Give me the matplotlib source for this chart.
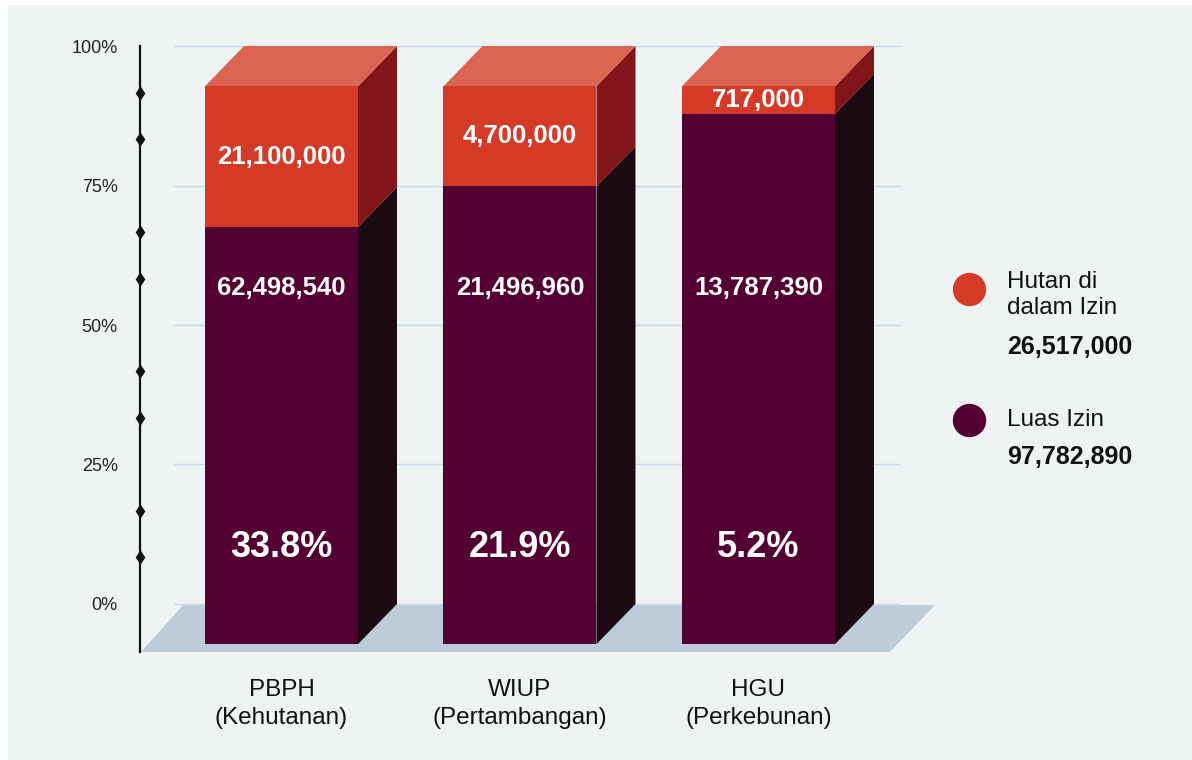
import matplotlib
matplotlib.use("Agg")
import matplotlib.pyplot as plt
from matplotlib.lines import Line2D
from matplotlib.patches import Rectangle
import numpy as np

plt.rcParams['font.family'] = ['Liberation Sans', 'DejaVu Sans']

categories = ["PBPH\n(Kehutanan)", "WIUP\n(Pertambangan)", "HGU\n(Perkebunan)"]
luas_izin = np.array([62498540, 21496960, 13787390])
hutan_izin = np.array([21100000, 4700000, 717000])
yticks = [0, 25, 50, 75, 100]
legend_names = ["Hutan di\ndalam Izin", "Luas Izin"]

# shares of each stacked bar (100% stacked)
total = luas_izin + hutan_izin
luas_share = luas_izin / total * 100
hutan_share = hutan_izin / total * 100
pct = hutan_izin / luas_izin * 100

# colours
bg = "#eef3f3"
red_front, red_top, red_side = "#d53a26", "#dc6552", "#82151a"
pur_front, pur_side = "#540032", "#1c0a12"
floor_col = "#bccdd9"
grid_col = "#c9dbe8"

W, H = 1192, 760
fig = plt.figure(figsize=(W / 100, H / 100), dpi=100, facecolor="white")
fig.add_artist(Rectangle((8 / W, 0), 1, (H - 5) / H, transform=fig.transFigure,
                         facecolor=bg, edgecolor="none", zorder=0))

ax = fig.add_axes([140 / W, 100 / H, 810 / W, 620 / H])
ax.set_facecolor("none")
ax.set_xlim(-0.5933, 2.803)
ax.set_ylim(-10.04, 101.08)

n = len(categories)
x = np.arange(n)
w = 0.6415          # front face width
dx, dy = 0.1635, 7.2  # 3d depth offset

# floor
fl_dx, fl_dy = 0.176, 8.6
fl_left, fl_right = -0.589, n - 1 + 0.551
ax.fill([fl_left, fl_right, fl_right + fl_dx + 0.013, fl_left + fl_dx],
        [-fl_dy, -fl_dy, -0.2, -0.2], color=floor_col, lw=0, zorder=1)

# grid lines on the back wall
for t in yticks:
    ax.plot([-0.451, n - 1 + 0.593], [t, t], color=grid_col, lw=1, zorder=2)

# front faces
ax.bar(x, luas_share, bottom=-dy, width=w, color=pur_front, zorder=5)
ax.bar(x, hutan_share, bottom=luas_share - dy, width=w, color=red_front, zorder=5)

for i in range(n):
    x0, x1 = x[i] - w / 2, x[i] + w / 2
    s = luas_share[i]
    # side faces
    ax.fill([x1, x1, x1 + dx, x1 + dx], [-dy, s - dy, s, 0],
            color=pur_side, lw=0, zorder=4)
    ax.fill([x1, x1, x1 + dx, x1 + dx], [s - dy, 100 - dy, 100, s],
            color=red_side, lw=0, zorder=4)
    # top face
    ax.fill([x0, x1, x1 + dx, x0 + dx], [100 - dy, 100 - dy, 100, 100],
            color=red_top, lw=0, zorder=4)
    # labels
    ax.text(x[i], (s + 100) / 2 - dy, f"{hutan_izin[i]:,}", color="white",
            fontsize=18.5, fontweight="bold", ha="center", va="center", zorder=6)
    ax.text(x[i], 56.6, f"{luas_izin[i]:,}", color="white",
            fontsize=18.5, fontweight="bold", ha="center", va="center", zorder=6)
    ax.text(x[i], 10.2, f"{pct[i]:.1f}%", color="white",
            fontsize=26, fontweight="bold", ha="center", va="center", zorder=6)

# axes styling
for side in ["top", "right", "bottom"]:
    ax.spines[side].set_visible(False)
ax.spines["left"].set_bounds(-fl_dy, 100)
ax.spines["left"].set_linewidth(1.6)
ax.spines["left"].set_color("#111111")
ax.set_yticks(yticks)
ax.set_yticklabels([f"{t}%" for t in yticks], fontsize=13, color="#222222")
ax.tick_params(axis="y", length=0, pad=16)
ax.set_xticks(x)
ax.set_xticklabels(categories, fontsize=17.5, color="#111111", linespacing=1.3)
ax.tick_params(axis="x", length=0, pad=14)

# little diamond marks on the axis
minor = [m * 25 / 3 for m in range(1, 12) if m % 3 != 0]
ax.plot([ax.get_xlim()[0]] * len(minor), minor, linestyle="none", marker="d",
        color="#111111", ms=6, clip_on=False, zorder=6)

# legend
def fx(px):
    return px / W

def fy(py):
    return 1 - py / H

fig.add_artist(Line2D([fx(969)], [fy(289)], marker="o", ms=23, color=red_front,
                      lw=0, transform=fig.transFigure))
fig.add_artist(Line2D([fx(969)], [fy(420)], marker="o", ms=23, color=pur_front,
                      lw=0, transform=fig.transFigure))
fig.text(fx(1007), fy(295), legend_names[0], fontsize=17.5, color="#111111",
         va="center", ha="left", linespacing=1.25)
fig.text(fx(1007), fy(347), f"{hutan_izin.sum():,}", fontsize=18, fontweight="bold",
         color="#111111", va="center", ha="left")
fig.text(fx(1007), fy(420), legend_names[1], fontsize=17.5, color="#111111",
         va="center", ha="left")
fig.text(fx(1007), fy(457), f"{luas_izin.sum():,}", fontsize=18, fontweight="bold",
         color="#111111", va="center", ha="left")

fig.savefig("out.png", dpi=100, facecolor=fig.get_facecolor())
